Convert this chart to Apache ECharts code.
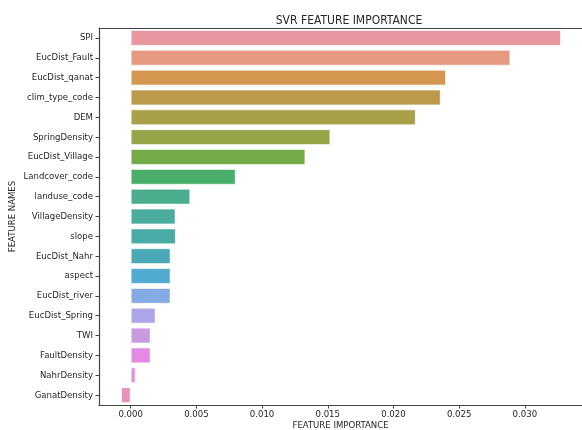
<!DOCTYPE html>
<html>
<head>
<meta charset="utf-8">
<script src="https://cdn.jsdelivr.net/npm/echarts@6/dist/echarts.min.js"></script>
<style>
  html, body { margin: 0; padding: 0; background: #fff; }
  #chart { width: 582px; height: 430px; }
</style>
</head>
<body>
<div id="chart"></div>
<script>
// Feature names, top to bottom
const features = [
  'SPI', 'EucDist_Fault', 'EucDist_qanat', 'clim_type_code', 'DEM',
  'SpringDensity', 'EucDist_Village', 'Landcover_code', 'landuse_code',
  'VillageDensity', 'slope', 'EucDist_Nahr', 'aspect', 'EucDist_river',
  'EucDist_Spring', 'TWI', 'FaultDensity', 'NahrDensity', 'GanatDensity'
];

// Permutation importance per feature
const importance = [
  0.03275, 0.0289, 0.0240, 0.0236, 0.0217,
  0.0152, 0.0133, 0.0080, 0.00454,
  0.00342, 0.00344, 0.00304, 0.00304, 0.00304,
  0.0019, 0.00152, 0.00152, 0.00038, -0.00074
];

// One hue per bar, running around the colour wheel
const barColors = [
  '#E8969F', '#E59A7F', '#D5964F', '#BC9A4C', '#A7A049',
  '#97A549', '#75AB47', '#4BAF6C', '#4AAE8E', '#4BAC9E',
  '#4AABA6', '#4AA9B4', '#51ABD0', '#84ABE3', '#ADA6E8',
  '#C89ADF', '#E38BE2', '#E393CE', '#E794BC'
];

// Tick positions on the importance axis
const xTicks = [0, 0.005, 0.010, 0.015, 0.020, 0.025, 0.030];

const font = '"DejaVu Sans Condensed", "DejaVu Sans", sans-serif';
const ink = '#262626';
const fs = 9.5;

const chart = echarts.init(document.getElementById('chart'), null, { renderer: 'canvas' });

chart.setOption({
  animation: false,
  backgroundColor: '#ffffff',
  textStyle: { fontFamily: font },
  title: {
    text: 'SVR FEATURE IMPORTANCE',
    left: 344,
    top: 10,
    textAlign: 'center',
    textStyle: { fontFamily: font, fontSize: 12, fontWeight: 'normal', color: ink }
  },
  grid: { left: 99, right: 0, top: 28, bottom: 25, containLabel: false, outerBoundsMode: 'none' },
  xAxis: [
    {
      type: 'value',
      min: -0.00241,
      max: 0.03435,
      splitLine: { show: false },
      axisLine: { show: true, onZero: false, lineStyle: { color: '#444', width: 1.2 } },
      axisTick: { show: true, length: 3.5, lineStyle: { color: '#444' }, customValues: xTicks },
      axisLabel: {
        customValues: xTicks,
        formatter: v => v.toFixed(3),
        fontFamily: font, fontSize: fs, color: ink, margin: 5
      },
      name: 'FEATURE IMPORTANCE',
      nameLocation: 'middle',
      nameGap: 16,
      nameMoveOverlap: false,
      nameTextStyle: { fontFamily: font, fontSize: fs, color: ink }
    },
    {
      type: 'value',
      position: 'top',
      min: -0.00241,
      max: 0.03435,
      splitLine: { show: false },
      axisLine: { show: true, onZero: false, lineStyle: { color: '#444', width: 1.2 } },
      axisTick: { show: false },
      axisLabel: { show: false }
    }
  ],
  yAxis: {
    type: 'category',
    data: features,
    inverse: true,
    axisLine: { show: true, onZero: false, lineStyle: { color: '#444', width: 1.2 } },
    axisTick: { show: true, length: 3.5, alignWithLabel: true, lineStyle: { color: '#444' } },
    axisLabel: { fontFamily: font, fontSize: fs, color: ink, margin: 6 },
    name: 'FEATURE NAMES',
    nameLocation: 'middle',
    nameRotate: 90,
    nameGap: 81,
    nameMoveOverlap: false,
    nameTextStyle: { fontFamily: font, fontSize: fs, color: ink }
  },
  series: [{
    type: 'bar',
    xAxisIndex: 0,
    barWidth: '80%',
    data: importance.map((v, i) => ({
      value: v,
      itemStyle: { color: barColors[i], borderColor: 'rgba(255,255,255,0.6)', borderWidth: 1 }
    }))
  }]
});
</script>
</body>
</html>
